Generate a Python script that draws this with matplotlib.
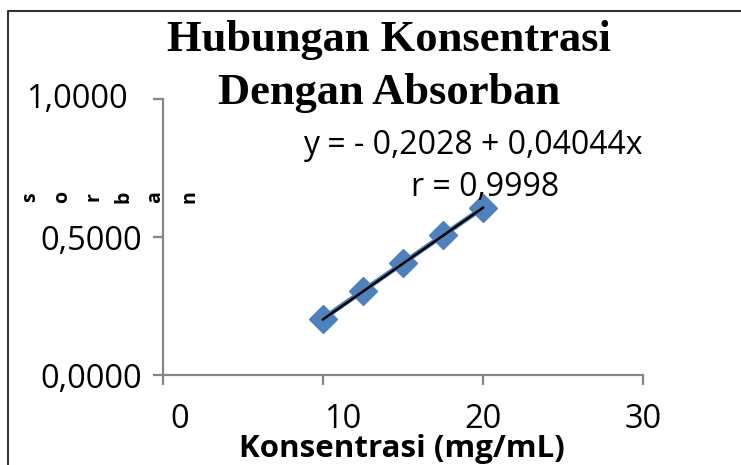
import matplotlib.pyplot as plt
import matplotlib.transforms as mtransforms
from matplotlib.lines import Line2D

# data
konsentrasi = [10, 12.5, 15, 17.5, 20]
absorban = [0.2041, 0.3049, 0.4057, 0.5061, 0.6058]
intercept = -0.2028
slope = 0.04044
r_value = 0.9998
x_ticks = [0, 10, 20, 30]
y_ticks = [0.0, 0.5, 1.0]
ylabel_chars = ["s", "o", "r", "b", "a", "n"]

W, H = 741, 465
fig = plt.figure(figsize=(W / 100, H / 100), dpi=100)
ax = fig.add_axes([163 / W, (H - 375) / H, 480 / W, 276 / H])

blue = "#4F81BD"
axis_gray = "#868686"
label_font = "Open Sans"

ax.plot(konsentrasi, absorban, color=blue, lw=3.6, marker="D", ms=14,
        mfc=blue, mec=blue, zorder=2)

# trendline
tx = [konsentrasi[0], konsentrasi[-1]]
ty = [intercept + slope * v for v in tx]
ax.plot(tx, ty, color="black", lw=1.8, zorder=3)

ax.set_xlim(0, 30)
ax.set_ylim(0, 1)
ax.set_xticks(x_ticks)
ax.set_yticks(y_ticks)
ax.set_yticklabels([f"{v:.4f}".replace(".", ",") for v in y_ticks],
                   fontsize=23.5, family=label_font)
ax.set_xticklabels([str(v) for v in x_ticks], fontsize=23.5, family=label_font)

for side in ["top", "right"]:
    ax.spines[side].set_visible(False)
for side in ["left", "bottom"]:
    ax.spines[side].set_color(axis_gray)
    ax.spines[side].set_linewidth(1.6)
ax.tick_params(axis="both", direction="out", length=7, width=1.6, color=axis_gray)
ax.tick_params(axis="y", pad=8)
ax.tick_params(axis="x", pad=13)

# odd label positions from the original chart
xshift = [17, 20, 0, 0]
for lab, dx in zip(ax.get_xticklabels(), xshift):
    lab.set_transform(lab.get_transform() + mtransforms.ScaledTranslation(dx / 100, 0, fig.dpi_scale_trans))
yshift = [(0, 0), (0, 0), (-14, 3)]
for lab, (dx, dy) in zip(ax.get_yticklabels(), yshift):
    lab.set_transform(lab.get_transform() + mtransforms.ScaledTranslation(dx / 100, dy / 100, fig.dpi_scale_trans))

# title
fig.text(389 / W, 1 - 40 / H, "Hubungan Konsentrasi", ha="center", va="center",
         fontsize=32, fontweight="bold", family="Liberation Serif")
fig.text(389 / W, 1 - 93 / H, "Dengan Absorban", ha="center", va="center",
         fontsize=32, fontweight="bold", family="Liberation Serif")

# equation
eq = f"y = - {-intercept:.4f} + {slope:.5f}x".replace(".", ",")
fig.text(473 / W, 1 - 145 / H, eq, ha="center", va="center", fontsize=23, family=label_font)
fig.text(485 / W, 1 - 188 / H, f"r = {r_value:.4f}".replace(".", ","),
         ha="center", va="center", fontsize=23, family=label_font)

# x label, sitting right on the bottom edge
fig.text(402 / W, 1 - 457 / H, "Konsentrasi (mg/mL)", ha="center", va="baseline",
         fontsize=22.5, fontweight="bold", family=label_font)

# y label letters, each turned on its side
xs = [30, 62, 93, 123, 155, 190]
for ch, px in zip(ylabel_chars, xs):
    fig.text(px / W, 1 - 197 / H, ch, ha="center", va="center", rotation=90,
             fontsize=14, fontweight="bold", family=label_font)

# outer border
fig.add_artist(Line2D([8 / W, 8 / W, 1.0], [0.0, 1 - 11 / H, 1 - 11 / H],
                      transform=fig.transFigure, color="#333333", lw=1.5))

fig.savefig("out.png", dpi=100)
